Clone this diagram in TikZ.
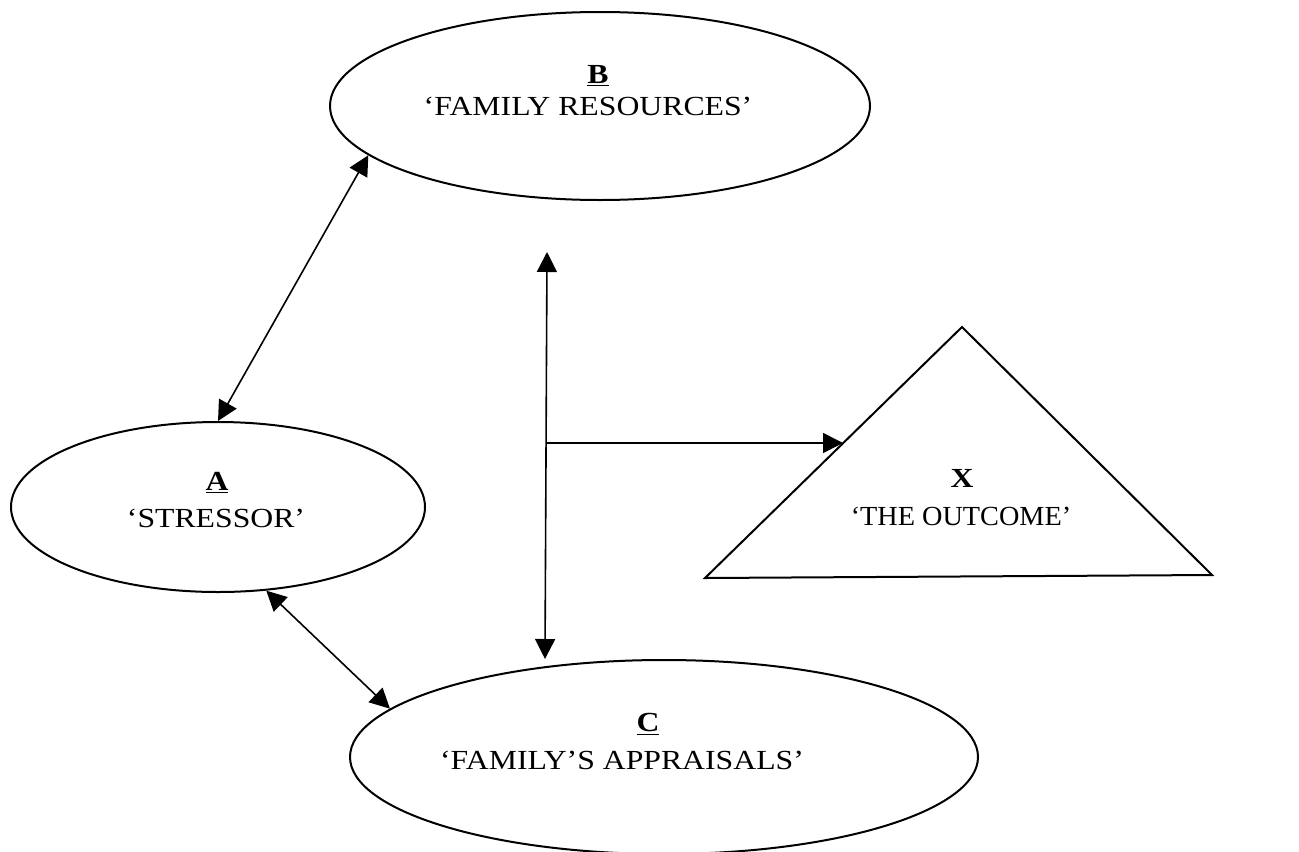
\documentclass[tikz,border=0pt]{standalone}
\usepackage{fontspec}
\setmainfont[FakeStretch=1.15]{Liberation Serif}
\usetikzlibrary{arrows.meta,shapes.geometric}

% bold, underlined factor letter
\newcommand{\factorletter}[1]{\underline{\textbf{#1}}}

\begin{document}
\begin{tikzpicture}[x=0.5pt,y=-0.5pt,
  oval/.style={draw=black, line width=1pt, ellipse, inner sep=0pt},
  lab/.style={anchor=base, inner sep=0pt, font=\fontsize{13.8pt}{16pt}\selectfont},
  link/.style={draw=black, line width=0.8pt,
    >={Triangle[length=10pt,width=10pt]}},
  outline/.style={draw=black, line width=1pt, line join=miter}
]
\useasboundingbox (0,0) rectangle (1299,851);

% the three family factors
\node[oval, minimum width=270pt, minimum height=94pt] (B) at (600,106) {};
\node[oval, minimum width=207pt, minimum height=85pt] (A) at (218,507) {};
\node[oval, minimum width=314pt, minimum height=97pt] (C) at (664,757) {};

% the outcome triangle
\coordinate (Xtop) at (962,327);
\coordinate (Xleft) at (705,578);
\coordinate (Xright) at (1212,575);
\draw[outline] (Xtop) -- (Xleft) -- (Xright) -- cycle;

% labels
\node[lab] (Bl) at (598,83) {\factorletter{B}};
\node[lab] (Bt) at (588,115) {‘FAMILY RESOURCES’};
\node[lab] (Al) at (217,490) {\factorletter{A}};
\node[lab] (At) at (216,527) {‘STRESSOR’};
\node[lab] (Cl) at (648,731) {\factorletter{C}};
\node[lab] (Ct) at (622,769) {‘FAMILY’S APPRAISALS’};
\node[lab] (Xl) at (962,487) {\textbf{X}};
\node[lab] (Xt) at (961,525) {\scalebox{0.89}[1]{‘THE OUTCOME’}};

% connectors
\coordinate (vtop) at (547,252);
\coordinate (vbot) at (545,659);
\coordinate (junct) at (546,443);
\coordinate (xin) at (843,443);

\draw[link,<->] (A.north) -- (B.192);
\draw[link,<->] (A.-60) -- (C.170);
\draw[link,<->] (vtop) -- (vbot);
\draw[link,->] (junct) -- (xin);
\end{tikzpicture}
\end{document}
